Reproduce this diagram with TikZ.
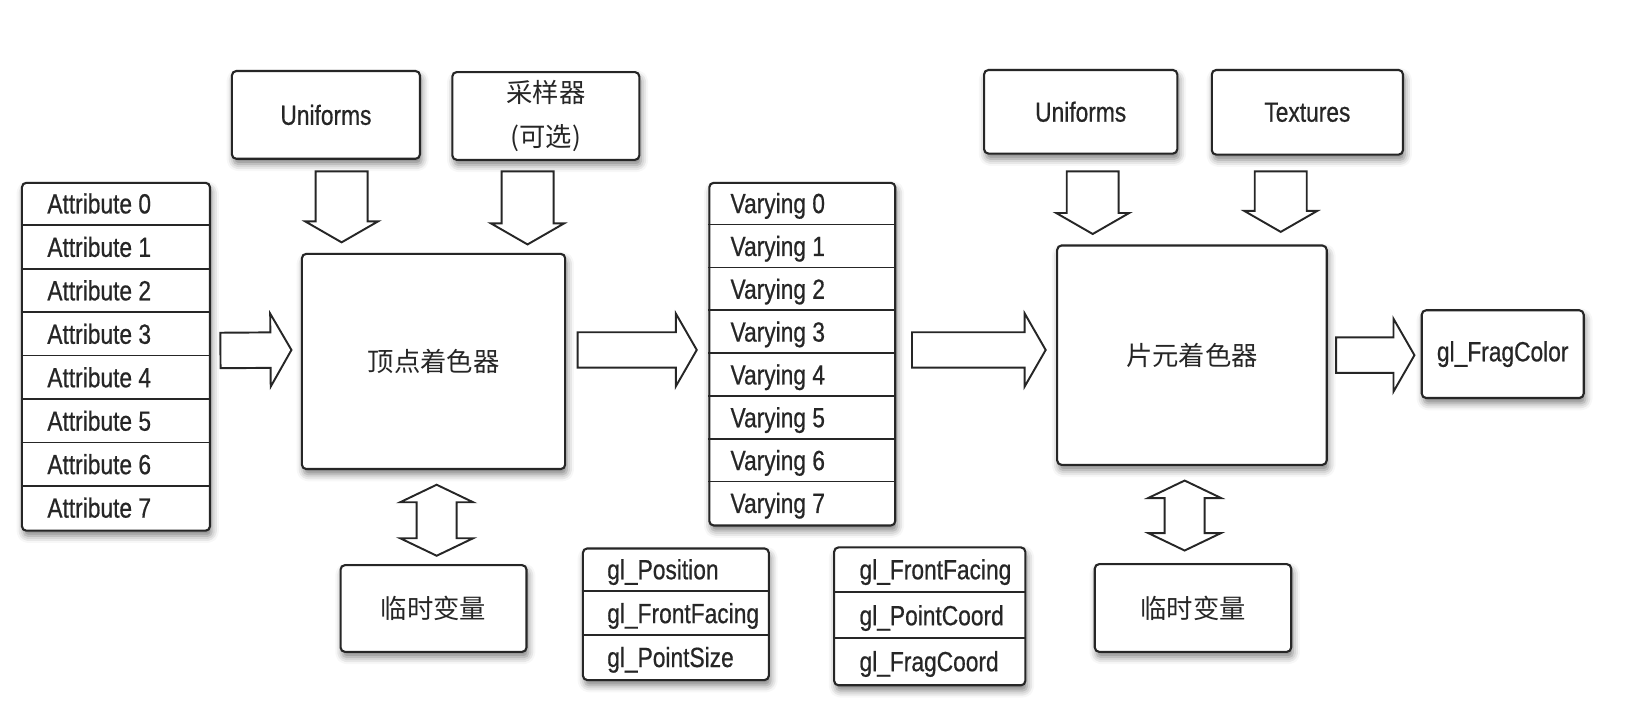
\documentclass[tikz,border=0pt]{standalone}
\usepackage{fontspec}
\setmainfont{Liberation Sans}[FakeStretch=0.82, FakeBold=0.6]
\newfontfamily\cjk{Noto Sans CJK SC}
\usetikzlibrary{calc,shadows.blur}

\def\upx{0.0209cm}

\tikzset{
  fat shaft/.store in=\fatshaft, fat head/.store in=\fathead, fat len/.store in=\fatlen,
  fat shaft=0.355cm, fat head=0.73cm, fat len=0.42cm,
  arrowline/.style={draw=black!85, fill=white, line width=1.1pt, line join=miter},
  % hollow block arrow, one head
  fat/.style={arrowline, to path={let \p1=(\tikztostart), \p2=(\tikztotarget),
      \p3=($(\p2)!\fatlen!(\p1)$) in
      ($(\p1)!\fatshaft!90:(\p2)$) -- ($(\p3)!\fatshaft!90:(\p2)$) -- ($(\p3)!\fathead!90:(\p2)$)
      -- (\p2) -- ($(\p3)!\fathead!-90:(\p2)$) -- ($(\p3)!\fatshaft!-90:(\p2)$)
      -- ($(\p1)!\fatshaft!-90:(\p2)$) -- cycle}},
  % hollow block arrow, two heads
  dfat/.style={arrowline, to path={let \p1=(\tikztostart), \p2=(\tikztotarget),
      \p3=($(\p2)!\fatlen!(\p1)$), \p4=($(\p1)!\fatlen!(\p2)$) in
      (\p1) -- ($(\p4)!\fathead!90:(\p2)$) -- ($(\p4)!\fatshaft!90:(\p2)$)
      -- ($(\p3)!\fatshaft!90:(\p2)$) -- ($(\p3)!\fathead!90:(\p2)$) -- (\p2)
      -- ($(\p3)!\fathead!-90:(\p2)$) -- ($(\p3)!\fatshaft!-90:(\p2)$)
      -- ($(\p4)!\fatshaft!-90:(\p2)$) -- ($(\p4)!\fathead!-90:(\p2)$) -- cycle}},
}

\begin{document}
\begin{tikzpicture}[x=0.0209cm, y=-0.0209cm,
    box/.style={draw=black!85, line width=1.2pt, rounded corners=2.5pt, fill=white,
      text=black!85, inner sep=0pt,
      blur shadow={shadow xshift=1pt, shadow yshift=-3pt, shadow blur radius=4pt, shadow opacity=50}},
    latbox/.style={box, font=\fontsize{15.8pt}{18pt}\selectfont},
    cjkbox/.style={box, font=\cjk\fontsize{15pt}{25pt}\selectfont},
    rowtext/.style={anchor=base west, inner sep=0pt, text=black!85, font=\fontsize{15.8pt}{18pt}\selectfont},
    divider/.style={draw=black!85, line width=1pt},
    hfat/.style={fat, fat shaft=0.355cm, fat head=0.73cm, fat len=0.42cm},
    vfat/.style={fat, fat shaft=0.52cm, fat head=0.73cm, fat len=0.42cm},
    bfat/.style={dfat, fat shaft=0.40cm, fat head=0.73cm, fat len=0.35cm}]
  \useasboundingbox (0,0) rectangle (1568,674);

  % inputs on top
  \node[latbox, minimum width=180*\upx, minimum height=84*\upx] (uni1) at (312,110) {Uniforms};
  \node[cjkbox, align=center, minimum width=179*\upx, minimum height=84*\upx] (samp) at (522.5,111) {采样器\\(可选)};
  \node[latbox, minimum width=185*\upx, minimum height=80*\upx] (uni2) at (1034.5,107) {Uniforms};
  \node[latbox, minimum width=183*\upx, minimum height=81*\upx] (tex) at (1251.5,107.5) {Textures};

  % the two shaders
  \node[cjkbox, minimum width=252*\upx, minimum height=206*\upx] (vs) at (415,346) {顶点着色器};
  \node[cjkbox, minimum width=258*\upx, minimum height=210*\upx] (fs) at (1141,340) {片元着色器};
  \node[latbox, minimum width=155*\upx, minimum height=84*\upx] (fragc) at (1438.5,339) {gl\_FragColor};

  % temporaries
  \node[cjkbox, minimum width=178*\upx, minimum height=83*\upx] (tmp1) at (415,582.5) {临时变量};
  \node[cjkbox, minimum width=188*\upx, minimum height=84*\upx] (tmp2) at (1142,582) {临时变量};

  % attributes
  \node[box, minimum width=180*\upx, minimum height=333*\upx] (attr) at (111,341.5) {};
  \foreach \i in {0,...,7}
    \node[rowtext] (attr\i) at ($(attr.north west)+(25,41.6*\i+30.3)$) {Attribute \i};
  \foreach \i in {1,...,7}
    \draw[divider] ($(attr.north west)+(0,41.6*\i)$) -- ($(attr.north east)+(0,41.6*\i)$);

  % varyings
  \node[box, minimum width=178*\upx, minimum height=328*\upx] (vary) at (768,339) {};
  \foreach \i in {0,...,7}
    \node[rowtext] (vary\i) at ($(vary.north west)+(21,41*\i+30)$) {Varying \i};
  \foreach \i in {1,...,7}
    \draw[divider] ($(vary.north west)+(0,41*\i)$) -- ($(vary.north east)+(0,41*\i)$);

  % built-in variables
  \node[box, minimum width=178*\upx, minimum height=126*\upx] (glv) at (647,588) {};
  \foreach \t [count=\i from 0] in {gl\_Position, gl\_FrontFacing, gl\_PointSize}
    \node[rowtext] (glv\i) at ($(glv.north west)+(24,42*\i+30.5)$) {\t};
  \foreach \i in {1,2}
    \draw[divider] ($(glv.north west)+(0,42*\i)$) -- ($(glv.north east)+(0,42*\i)$);

  \node[box, minimum width=183*\upx, minimum height=132*\upx] (glf) at (890,590) {};
  \foreach \t [count=\i from 0] in {gl\_FrontFacing, gl\_PointCoord, gl\_FragCoord}
    \node[rowtext] (glf\i) at ($(glf.north west)+(25,44*\i+31.5)$) {\t};
  \foreach \i in {1,2}
    \draw[divider] ($(glf.north west)+(0,44*\i)$) -- ($(glf.north east)+(0,44*\i)$);

  % block arrows
  \draw[hfat] ($(attr.east)+(9,-6)$) to ($(vs.west)+(-9,-11)$);
  \draw[hfat] ($(vs.east)+(11,-11)$) to ($(vary.west)+(-11,-4)$);
  \draw[hfat] ($(vary.east)+(15,-4)$) to ($(fs.west)+(-10,-5)$);
  \draw[hfat] ($(fs.east)+(8,0)$) to ($(fragc.west)+(-6,1)$);
  \draw[vfat] ($(uni1.south)+(15,11)$) to ($(vs.north)+(-88,-10)$);
  \draw[vfat] ($(samp.south)+(-17.5,10)$) to ($(vs.north)+(90,-8)$);
  \draw[vfat] ($(uni2.south)+(11.5,16)$) to ($(fs.north)+(-95,-10)$);
  \draw[vfat] ($(tex.south)+(-25.5,15)$) to ($(fs.north)+(85,-12)$);
  \draw[bfat] ($(vs.south)+(3,14)$) to ($(tmp1.north)+(3,-8)$);
  \draw[bfat] ($(fs.south)+(-7,14)$) to ($(tmp2.north)+(-8,-12)$);
\end{tikzpicture}
\end{document}
